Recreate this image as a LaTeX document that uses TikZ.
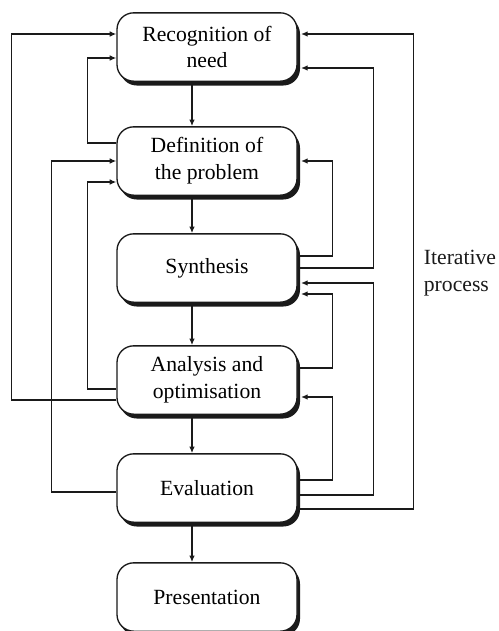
\documentclass[tikz,border=0pt]{standalone}
\usepackage{fontspec}
\setmainfont{Liberation Serif}
\usepackage{xcolor}
\usetikzlibrary{arrows.meta,shadows}
\definecolor{bg}{HTML}{FFFFFF}
\definecolor{ink}{HTML}{1A1A1A}
\tikzset{
  stage/.style={draw=ink, fill=bg, line width=0.8pt, rounded corners=10pt,
    minimum width=108pt, minimum height=41pt, align=center,
    font=\fontsize{13}{16}\selectfont,
    drop shadow={shadow xshift=1.8pt, shadow yshift=-2.6pt, fill=ink, opacity=1}},
  flow/.style={draw=ink, line width=0.8pt, -{Latex[length=4pt,width=3.4pt]}},
  lab/.style={text=ink, font=\fontsize{13}{16}\selectfont, align=left, anchor=west},
}
\begin{document}
\begin{tikzpicture}[x=0.6pt,y=-0.6pt]
  \useasboundingbox[fill=bg] (0,0) rectangle (499,631);
  % stages
  \node[stage] (rec) at (207,47)  {Recognition of\\need};
  \node[stage] (def) at (207,161) {Definition of\\the problem};
  \node[stage] (syn) at (207,268) {Synthesis};
  \node[stage] (ana) at (207,380) {Analysis and\\optimisation};
  \node[stage] (eva) at (207,488) {Evaluation};
  \node[stage] (pre) at (207,597) {Presentation};
  % main flow
  \foreach \a/\b in {rec/def,def/syn,syn/ana,ana/eva,eva/pre}
    \draw[flow] ([xshift=-9pt]\a.south) -- ([xshift=-9pt]\b.north);
  % feedback, left
  \draw[flow] ([yshift=-12pt]ana.west) -- ++(-105,0) |- ([yshift=7.8pt]rec.west);
  \draw[flow] ([yshift=-2.4pt]eva.west) -- ++(-65,0) |- (def.west);
  \draw[flow] ([yshift=10.8pt]def.west) -- ++(-29,0) |- ([yshift=-6.6pt]rec.west);
  \draw[flow] ([yshift=-5.4pt]ana.west) -- ++(-29,0) |- ([yshift=-12.6pt]def.west);
  % feedback, right
  \draw[flow] ([yshift=-12.6pt]eva.east) -- ++(116,0) |- ([xshift=2pt,yshift=7.8pt]rec.east);
  \draw[flow] (syn.east) -- ++(76,0) |- ([xshift=2pt,yshift=-12.6pt]rec.east);
  \draw[flow] ([yshift=7.2pt]syn.east) -- ++(35,0) |- ([xshift=2pt]def.east);
  \draw[flow] ([yshift=-4.2pt]eva.east) -- ++(76,0) |- ([xshift=2pt,yshift=-9pt]syn.east);
  \draw[flow] ([yshift=7.2pt]ana.east) -- ++(35,0) |- ([xshift=2pt,yshift=-15.6pt]syn.east);
  \draw[flow] ([yshift=4.8pt]eva.east) -- ++(35,0) |- ([xshift=2pt,yshift=-10.2pt]ana.east);
  \node[lab] (iter) at (418,273) {Iterative\\process};
\end{tikzpicture}
\end{document}
